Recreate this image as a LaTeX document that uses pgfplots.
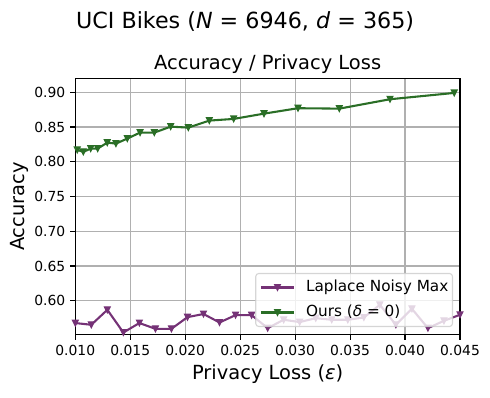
\documentclass[border=0pt]{standalone}
\usepackage{fontspec}
\setmainfont{DejaVu Sans}
\usepackage{pgfplots}
\pgfplotsset{compat=1.18}
\definecolor{lapl}{RGB}{117,50,118}
\definecolor{ours}{RGB}{42,110,38}
\definecolor{gridgray}{HTML}{B0B0B0}
% matplotlib style 'v' marker
\pgfdeclareplotmark{tridown}{%
  \pgfpathmoveto{\pgfqpoint{0pt}{-\pgfplotmarksize}}%
  \pgfpathlineto{\pgfqpoint{-\pgfplotmarksize}{\pgfplotmarksize}}%
  \pgfpathlineto{\pgfqpoint{\pgfplotmarksize}{\pgfplotmarksize}}%
  \pgfpathclose
  \pgfusepathqfillstroke}

\begin{document}
\begin{tikzpicture}
\begin{axis}[
    name=ax,
    scale only axis,
    width=277pt, height=184.7pt,
    xmin=0.010, xmax=0.045, ymin=0.551, ymax=0.920,
    scaled ticks=false,
    xtick={0.010,0.015,0.020,0.025,0.030,0.035,0.040,0.045},
    xticklabels={0.010,0.015,0.020,0.025,0.030,0.035,0.040,0.045},
    ytick={0.60,0.65,0.70,0.75,0.80,0.85,0.90},
    yticklabels={0.60,0.65,0.70,0.75,0.80,0.85,0.90},
    tick pos=left, tick align=outside, major tick length=3.5pt,
    every tick/.style={black, line width=0.8pt},
    axis line style={line width=0.8pt},
    grid=major, grid style={gridgray, line width=0.8pt},
    tick label style={font=\fontsize{10}{12}\selectfont, inner sep=0pt},
    xticklabel style={yshift=-3.5pt},
    yticklabel style={xshift=-3.5pt},
    legend cell align=left,
    legend image code/.code={\draw[mark repeat=2,mark phase=2,#1,opacity=1]
        plot coordinates {(0pt,0pt) (11.9pt,0pt) (23.8pt,0pt)};},
    legend style={at={(1,0)}, anchor=south east, xshift=-5pt, yshift=5.6pt,
        draw=black!20, line width=0.8pt, rounded corners=2.2pt,
        fill=white, fill opacity=0.8, draw opacity=0.8, text opacity=1,
        font=\fontsize{11}{13}\selectfont,
        inner xsep=3pt, inner ysep=2.6pt, row sep=3pt, column sep=7.9pt,
        nodes={inner xsep=0pt, inner ysep=1.5pt, text height=9pt, text depth=3pt}},
    every axis plot/.append style={line width=1.5pt, mark=tridown,
        mark size=2.1pt, mark options={line width=0.8pt}},
]

% Laplace Noisy Max
\addplot[color=lapl] coordinates {
    (0.010000,0.5680) (0.011458,0.5655) (0.012917,0.5870) (0.014375,0.5544)
    (0.015833,0.5680) (0.017292,0.5597) (0.018750,0.5597) (0.020208,0.5765)
    (0.021667,0.5810) (0.023125,0.5688) (0.024583,0.5794) (0.026042,0.5794)
    (0.027500,0.5607) (0.028958,0.5727) (0.030417,0.5694) (0.031875,0.5750)
    (0.033333,0.5727) (0.034792,0.5727) (0.036250,0.5760) (0.037708,0.5942)
    (0.039167,0.5655) (0.040625,0.5885) (0.042083,0.5607) (0.043542,0.5712)
    (0.045000,0.5799)
};
\addlegendentry{Laplace Noisy Max}

% Ours (delta = 0)
\addplot[color=ours] coordinates {
    (0.01018,0.8171) (0.01073,0.8142) (0.01140,0.8189) (0.01204,0.8189)
    (0.01291,0.8275) (0.01370,0.8261) (0.01473,0.8333) (0.01589,0.8419)
    (0.01719,0.8419) (0.01868,0.8505) (0.02028,0.8491) (0.02219,0.8592)
    (0.02441,0.8616) (0.02717,0.8692) (0.03026,0.8770) (0.03402,0.8764)
    (0.03863,0.8899) (0.04448,0.8990)
};
\addlegendentry{Ours (\textit{δ} = 0)}

\end{axis}

\node[anchor=base, font=\fontsize{14}{17}\selectfont] at ([yshift=6pt]ax.north) {Accuracy / Privacy Loss};
\node[anchor=base, font=\fontsize{16}{19}\selectfont] at ([xshift=-16.2pt, yshift=36pt]ax.north) {UCI Bikes (\textit{N} = 6946, \textit{d} = 365)};
\node[anchor=base, font=\fontsize{14}{17}\selectfont] at ([yshift=-32.5pt]ax.south) {Privacy Loss (\textit{ε})};
\node[rotate=90, anchor=north, inner sep=0pt, font=\fontsize{14}{17}\selectfont] at ([xshift=-47pt]ax.west) {Accuracy};

\pgfresetboundingbox
\path[use as bounding box] ([shift={(-54.2pt,-44.8pt)}]ax.south west) rectangle ([shift={(21.6pt,56.4pt)}]ax.north east);
\end{tikzpicture}
\end{document}
